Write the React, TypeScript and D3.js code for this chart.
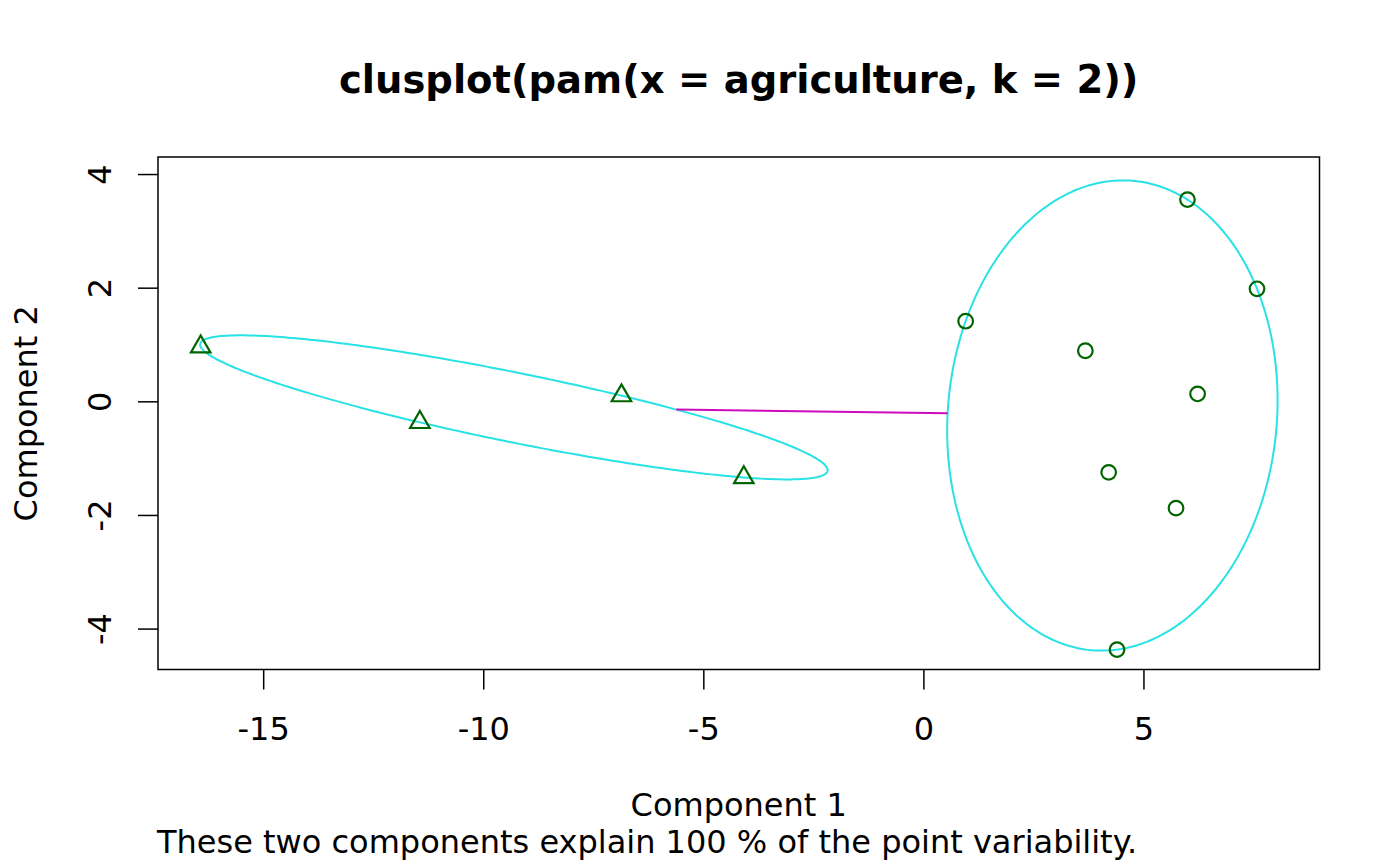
import React from 'react';
import * as d3 from 'd3';

const width = 1400;
const height = 866;
const margin = { top: 157, right: 80.5, bottom: 196.5, left: 158 };

// component scores
const clusterOneX = [-16.42, -11.44, -6.86, -4.08];
const clusterOneY = [0.96, -0.37, 0.1, -1.34];
const clusterTwoX = [0.96, 3.68, 6.0, 7.58, 6.23, 4.21, 5.74, 4.4];
const clusterTwoY = [1.41, 0.89, 3.55, 1.98, 0.13, -1.25, -1.88, -4.37];

const xTicks = [-15, -10, -5, 0, 5];
const yTicks = [-4, -2, 0, 2, 4];
const xDomain = [-17.39, 9.0];
const yDomain = [-4.72, 4.3];

const titleText = 'clusplot(pam(x = agriculture, k = 2))';
const xLabel = 'Component 1';
const yLabel = 'Component 2';
const subText = 'These two components explain 100 % of the point variability.';

const font = 'DejaVu Sans';
const pointColor = '#006400';
const ellipseColor = '#28E2E5';
const lineColor = '#CD0BBC';

function inv3(m: number[][]) {
  const [a, b, c] = m[0];
  const [d, e, f] = m[1];
  const [g, h, i] = m[2];
  const A = e * i - f * h, B = -(d * i - f * g), C = d * h - e * g;
  const det = a * A + b * B + c * C;
  return [
    [A / det, -(b * i - c * h) / det, (b * f - c * e) / det],
    [B / det, (a * i - c * g) / det, -(a * f - c * d) / det],
    [C / det, -(a * h - b * g) / det, (a * e - b * d) / det],
  ];
}

// smallest-area ellipse holding all points (Khachiyan), like ellipsoidhull()
function ellipsoidHull(xs: number[], ys: number[]) {
  const n = xs.length;
  let u = xs.map(() => 1 / n);
  for (let iter = 0; iter < 200000; iter++) {
    const X = [[0, 0, 0], [0, 0, 0], [0, 0, 0]];
    for (let k = 0; k < n; k++) {
      const q = [xs[k], ys[k], 1];
      for (let a = 0; a < 3; a++)
        for (let b = 0; b < 3; b++) X[a][b] += u[k] * q[a] * q[b];
    }
    const Xi = inv3(X);
    let best = 0, bestM = -Infinity;
    for (let k = 0; k < n; k++) {
      const q = [xs[k], ys[k], 1];
      let m = 0;
      for (let a = 0; a < 3; a++)
        for (let b = 0; b < 3; b++) m += q[a] * Xi[a][b] * q[b];
      if (m > bestM) { bestM = m; best = k; }
    }
    const step = (bestM - 3) / (3 * (bestM - 1));
    const next = u.map(v => v * (1 - step));
    next[best] += step;
    const err = Math.sqrt(d3.sum(next, (v, k) => (v - u[k]) ** 2));
    u = next;
    if (err < 1e-10) break;
  }
  const cx = d3.sum(xs, (v, k) => u[k] * v);
  const cy = d3.sum(ys, (v, k) => u[k] * v);
  const sxx = d3.sum(xs, (v, k) => u[k] * v * v) - cx * cx;
  const syy = d3.sum(ys, (v, k) => u[k] * v * v) - cy * cy;
  const sxy = d3.sum(xs, (v, k) => u[k] * v * ys[k]) - cx * cy;
  return { cx, cy, sxx: 2 * sxx, syy: 2 * syy, sxy: 2 * sxy };
}

type Hull = ReturnType<typeof ellipsoidHull>;

function ellipsePoints(e: Hull): [number, number][] {
  const l11 = Math.sqrt(e.sxx);
  const l21 = e.sxy / l11;
  const l22 = Math.sqrt(e.syy - l21 * l21);
  return d3.range(0, 361).map(deg => {
    const t = (deg * Math.PI) / 180;
    return [e.cx + l11 * Math.cos(t), e.cy + l21 * Math.cos(t) + l22 * Math.sin(t)];
  });
}

// distance factor from the centre to the border along (dx, dy)
function borderFactor(e: Hull, dx: number, dy: number) {
  const det = e.sxx * e.syy - e.sxy * e.sxy;
  const q = (e.syy * dx * dx - 2 * e.sxy * dx * dy + e.sxx * dy * dy) / det;
  return 1 / Math.sqrt(q);
}

class App extends React.Component {
  svg: SVGSVGElement | null = null;

  componentDidMount() {
    this.drawChart();
  }

  shouldComponentUpdate() {
    return false;
  }

  drawChart() {
    const svg = d3.select(this.svg);
    svg.selectAll('*').remove();

    const x = d3.scaleLinear().domain(xDomain).range([margin.left, width - margin.right]);
    const y = d3.scaleLinear().domain(yDomain).range([height - margin.bottom, margin.top]);

    const plotBottom = height - margin.bottom;

    // ellipses
    const hulls = [ellipsoidHull(clusterOneX, clusterOneY), ellipsoidHull(clusterTwoX, clusterTwoY)];
    const line = d3.line<[number, number]>()
      .x(d => x(d[0]))
      .y(d => y(d[1]))
      .curve(d3.curveLinearClosed);

    svg.append('g')
      .selectAll('path')
      .data(hulls)
      .enter().append('path')
      .attr('d', d => line(ellipsePoints(d)))
      .attr('fill', 'none')
      .attr('stroke', ellipseColor)
      .attr('stroke-width', 2);

    // segment between the ellipse borders along the centre line
    const [h1, h2] = hulls;
    const dx = h2.cx - h1.cx;
    const dy = h2.cy - h1.cy;
    const f1 = borderFactor(h1, dx, dy);
    const f2 = borderFactor(h2, dx, dy);
    svg.append('line')
      .attr('x1', x(h1.cx + f1 * dx))
      .attr('y1', y(h1.cy + f1 * dy))
      .attr('x2', x(h2.cx - f2 * dx))
      .attr('y2', y(h2.cy - f2 * dy))
      .attr('stroke', lineColor)
      .attr('stroke-width', 2);

    // points
    const tri = d3.symbol().type(d3.symbolTriangle).size(165);
    svg.append('g')
      .selectAll('path')
      .data(clusterOneX.map((v, i) => [v, clusterOneY[i]]))
      .enter().append('path')
      .attr('d', tri() as string)
      .attr('transform', d => 'translate(' + x(d[0]) + ',' + y(d[1]) + ')')
      .attr('fill', 'none')
      .attr('stroke', pointColor)
      .attr('stroke-width', 2.2);

    svg.append('g')
      .selectAll('circle')
      .data(clusterTwoX.map((v, i) => [v, clusterTwoY[i]]))
      .enter().append('circle')
      .attr('cx', d => x(d[0]))
      .attr('cy', d => y(d[1]))
      .attr('r', 7.3)
      .attr('fill', 'none')
      .attr('stroke', pointColor)
      .attr('stroke-width', 2.2);

    // box
    svg.append('rect')
      .attr('x', margin.left)
      .attr('y', margin.top)
      .attr('width', width - margin.left - margin.right)
      .attr('height', height - margin.top - margin.bottom)
      .attr('fill', 'none')
      .attr('stroke', '#000')
      .attr('stroke-width', 1.5);

    // axes
    const xAxis = d3.axisBottom(x).tickValues(xTicks).tickSize(20).tickFormat(d => String(d));
    const gx = svg.append('g')
      .attr('transform', 'translate(0,' + plotBottom + ')')
      .call(xAxis);
    gx.select('.domain').remove();
    gx.selectAll('line').attr('stroke', '#000').attr('stroke-width', 1.5);
    gx.selectAll('text')
      .attr('y', 70.5)
      .attr('dy', 0)
      .attr('font-family', font)
      .attr('font-size', 32)
      .attr('fill', '#000');

    const yAxis = d3.axisLeft(y).tickValues(yTicks).tickSize(20).tickFormat(d => String(d));
    const gy = svg.append('g')
      .attr('transform', 'translate(' + margin.left + ',0)')
      .call(yAxis);
    gy.select('.domain').remove();
    gy.selectAll('line').attr('stroke', '#000').attr('stroke-width', 1.5);
    gy.selectAll('text')
      .attr('x', 0)
      .attr('y', 0)
      .attr('dy', 0)
      .attr('text-anchor', 'middle')
      .attr('transform', 'translate(-47,0) rotate(-90)')
      .attr('font-family', font)
      .attr('font-size', 32)
      .attr('fill', '#000');

    // titles
    svg.append('text')
      .attr('x', (margin.left + width - margin.right) / 2)
      .attr('y', 93)
      .attr('text-anchor', 'middle')
      .attr('font-family', font)
      .attr('font-weight', 'bold')
      .attr('font-size', 38.5)
      .text(titleText);

    svg.append('text')
      .attr('x', (margin.left + width - margin.right) / 2)
      .attr('y', 816)
      .attr('text-anchor', 'middle')
      .attr('font-family', font)
      .attr('font-size', 32)
      .text(xLabel);

    svg.append('text')
      .attr('transform', 'translate(37,' + (margin.top + plotBottom) / 2 + ') rotate(-90)')
      .attr('text-anchor', 'middle')
      .attr('font-family', font)
      .attr('font-size', 32)
      .text(yLabel);

    svg.append('text')
      .attr('x', 157)
      .attr('y', 853)
      .attr('font-family', font)
      .attr('font-size', 32)
      .text(subText);
  }

  render() {
    return (
      <svg
        width={width}
        height={height}
        style={{ position: 'absolute', left: 0, top: 0, background: '#fff' }}
        ref={(elem) => { this.svg = elem; }}
      ></svg>
    );
  }
}

export default App;
